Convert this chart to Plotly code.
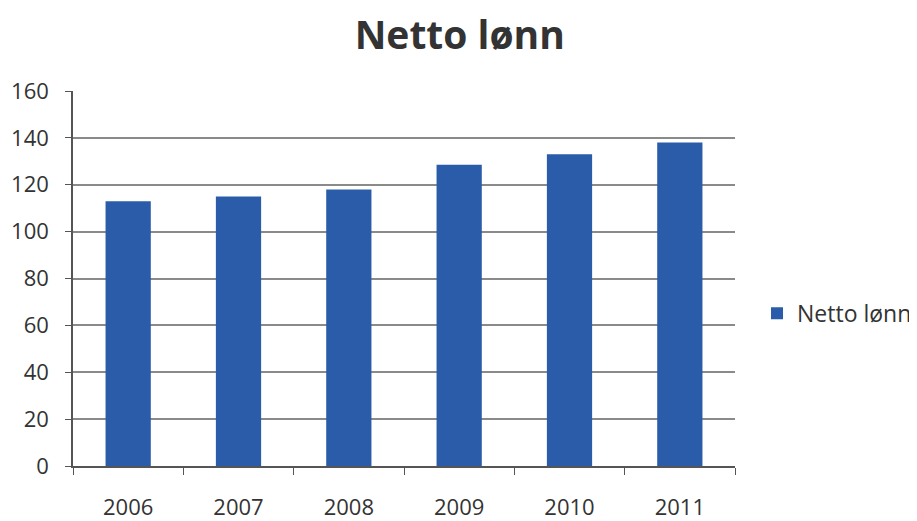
import plotly.graph_objects as go

years = ["2006", "2007", "2008", "2009", "2010", "2011"]
netto_lonn = [113, 115, 118, 128.5, 133, 138]
series_name = "Netto lønn"
y_ticks = [0, 20, 40, 60, 80, 100, 120, 140, 160]

fig = go.Figure()
fig.add_trace(go.Bar(x=years, y=netto_lonn, name=series_name,
                     marker=dict(color="#2a5caa", line=dict(width=0))))

font_family = "Open Sans, Lato, sans-serif"
# page body adds an 8px margin, so the figure is 8px smaller than the window
fig.update_layout(
    width=909, height=513,
    margin=dict(l=65, r=182, t=83, b=55),
    paper_bgcolor="white", plot_bgcolor="white",
    title=dict(text="<b>Netto lønn</b>", x=0.497, xanchor="center", y=0.947, yanchor="middle",
               font=dict(family=font_family, size=39, color="#333333")),
    showlegend=True,
    legend=dict(xref="container", yref="container", x=0.824, y=0.405,
                xanchor="left", yanchor="middle",
                font=dict(family=font_family, size=23, color="#333333"),
                itemwidth=30),
    bargap=0.59,
    font=dict(family=font_family, color="#333333"),
)
fig.update_xaxes(type="category", showline=True, linecolor="#555555", linewidth=1.5,
                 ticks="outside", tickson="boundaries", ticklen=7, tickcolor="#555555",
                 tickfont=dict(size=22, color="#333333"), ticklabelstandoff=21,
                 showgrid=False, automargin=False)
fig.update_yaxes(range=[0, 160], tickvals=y_ticks, showline=True, linecolor="#555555",
                 linewidth=1.5, ticks="outside", ticklen=6, tickcolor="#555555",
                 showgrid=True, gridcolor="#8a8a8a", gridwidth=1.5,
                 tickfont=dict(size=22, color="#333333"), ticklabelstandoff=12,
                 zeroline=False, automargin=False)

fig.write_html("out.html")
